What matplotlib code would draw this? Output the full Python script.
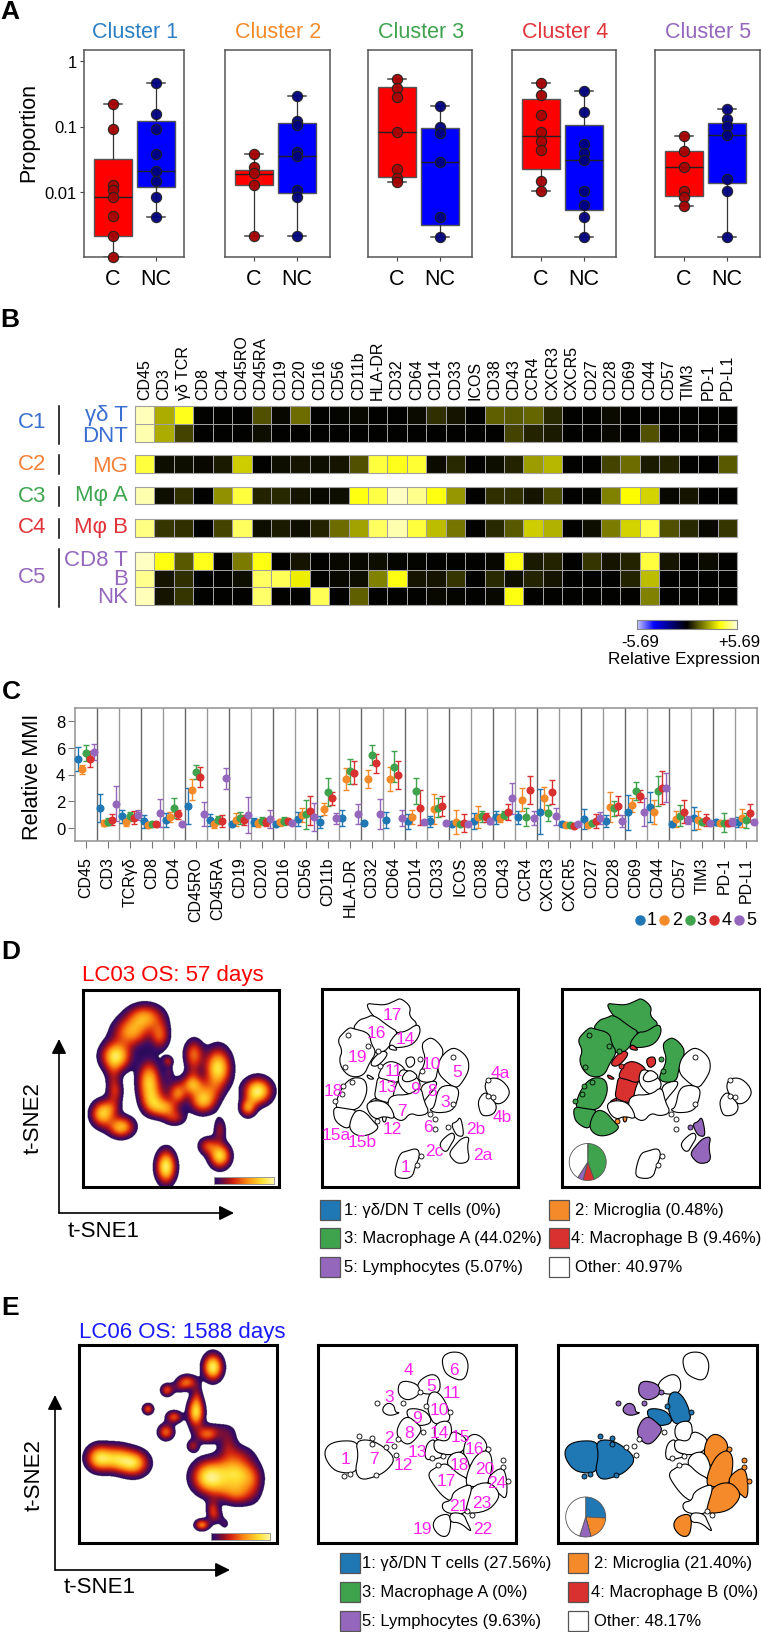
import numpy as np
import matplotlib
matplotlib.use('Agg')
import matplotlib.pyplot as plt
from matplotlib.colors import LinearSegmentedColormap
from matplotlib.patches import Polygon, Rectangle

W, H = 761, 1633
plt.rcParams['font.family'] = ['Liberation Sans', 'DejaVu Sans']

BLUE, ORANGE, GREEN, RED, PURPLE = '#1f77b4', '#f58a2a', '#3fa34d', '#d93030', '#9467bd'
CL_COLORS = {0: 'white', 1: BLUE, 2: ORANGE, 3: GREEN, 4: RED, 5: PURPLE}

# ---- panel A: points and box stats (q1, median, q3)
A_TITLES = ['Cluster 1', 'Cluster 2', 'Cluster 3', 'Cluster 4', 'Cluster 5']
A_TITLE_COLORS = ['#2a7fc4', '#f58a2a', '#3fa34d', '#e0343a', '#9467bd']
C_POINTS = [
    [.22, .0905, .0129, .0106, .0084, .00425, .0021, .00102],
    [.038, .0241, .0193, .0126, .0021],
    [.531, .392, .279, .0824, .0227, .0164, .0144],
    [.467, .306, .152, .0824, .0594, .0433, .0146, .0105],
    [.0716, .0423, .0244, .01035, .0083, .0061],
]
NC_POINTS = [
    [.46, .155, .0927, .038, .0209, .0147, .0084, .0042],
    [.296, .121, .104, .0408, .0354, .0109, .0084, .0021],
    [.203, .098, .0787, .029, .00415, .00208],
    [.348, .164, .054, .0394, .0308, .0105, .00626, .0042, .00208],
    [.185, .129, .102, .0733, .016, .0102, .00203],
]
C_BOX = [(.0021, .0084, .0316), (.0128, .019, .0217), (.0167, .0824, .396), (.0222, .0708, .266), (.00879, .0244, .0423)]
NC_BOX = [(.0118, .0209, .121), (.00966, .0359, .112), (.00313, .029, .0948), (.00531, .0312, .107), (.0136, .0733, .114)]

# ---- panel B
B_MARKERS = ['CD45', 'CD3', 'γδ TCR', 'CD8', 'CD4', 'CD45RO', 'CD45RA', 'CD19', 'CD20', 'CD16', 'CD56',
             'CD11b', 'HLA-DR', 'CD32', 'CD64', 'CD14', 'CD33', 'ICOS', 'CD38', 'CD43', 'CCR4', 'CXCR3',
             'CXCR5', 'CD27', 'CD28', 'CD69', 'CD44', 'CD57', 'TIM3', 'PD-1', 'PD-L1']
gdT = [5.4, 2.5, 4.0, 0, 0, 0, 1.2, .1, 1.6, 0, .05, .1, 0, 0, .15, .7, .3, 0, 1.4, 1.3, 1.5, .6, 0, 0, .15, 0, 0, 0, 0, 0, 0]
DNT = [5.3, 2.5, 1.0, 0, 0, 0, .2, 0, 0, 0, 0, 0, 0, 0, 0, 0, 0, 0, 0, 1.0, .5, .4, 0, 0, .1, 0, 1.2, 0, 0, 0, 0]
MG = [4.3, .2, .2, .1, .4, 3.0, 0, .2, .3, .2, .3, 1.2, 4.3, 4.0, 4.2, .15, .6, 0, .2, .5, 2.3, 2.7, 0, 0, 1.0, 1.6, .4, .5, 0, 0, 1.3]
MphiA = [5.3, .2, .7, 0, 2.1, 4.3, .5, .6, .3, .1, .2, 3.9, 4.4, 5.5, 5.0, 3.9, 2.2, 0, .7, .7, .3, 1.1, 0, .05, 1.9, 3.7, 3.1, .1, .3, 0, 0]
MphiB = [4.9, .8, .7, 0, 1.0, 4.6, .2, .4, .2, .5, 1.6, 2.4, 4.6, 5.3, 4.3, 2.8, 1.7, 0, .6, 1.3, 3.0, 2.6, 0, .2, 1.8, 3.1, 4.4, 1.2, .6, .1, .8]
CD8T = [5.5, 3.9, 1.3, 4.0, 0, 1.8, 3.9, 0, .3, 0, .1, .1, .2, .05, .05, 0, 0, 0, .1, 3.9, .4, .5, 0, .8, .3, .5, 4.3, .3, 0, .15, 0]
Bcell = [5.0, .3, .7, 0, 0, .2, 4.6, 4.5, 3.5, 0, .1, .2, 1.9, 3.9, .3, .3, .8, 0, .6, .2, .5, .3, 0, 0, 0, .5, 2.8, 0, 0, 0, 0]
NK = [5.4, .3, .8, 0, 0, 0, 4.7, 0, 0, 4.5, 0, 1.4, 0, 0, 0, .1, .05, 0, .1, 3.9, 0, 0, 0, 0, 0, 0, 1.9, 0, 0, 0, 0]

# ---- panel C
C_LABELS = ['CD45', 'CD3', 'TCRγδ', 'CD8', 'CD4', 'CD45RO', 'CD45RA', 'CD19', 'CD20', 'CD16', 'CD56', 'CD11b',
            'HLA-DR', 'CD32', 'CD64', 'CD14', 'CD33', 'ICOS', 'CD38', 'CD43', 'CCR4', 'CXCR3', 'CXCR5', 'CD27',
            'CD28', 'CD69', 'CD44', 'CD57', 'TIM3', 'PD-1', 'PD-L1']
mean1 = [5.2, 1.5, .85, .47, .58, 1.6, .55, .3, .4, .3, .65, .45, .72, .33, .55, .47, .47, .28, .47, .78, .78, 1.2, .3, .67, .52, 1.15, 1.55, .3, .7, .4, .42]
sd1 = [.9, 1.05, .5, .5, .55, 1.35, .45, .1, .3, .12, .55, .45, .6, .05, .6, .55, .4, .1, .6, .5, .5, 1.7, .1, .75, .45, 1.3, 1.15, .1, .85, .2, .35]
mean2 = [4.4, .35, .45, .2, .8, 2.85, .3, .6, .35, .4, .95, 1.4, 3.65, 3.65, 3.65, .8, 1.4, .4, .8, .75, 2.1, 2.2, .17, .22, 1.55, 1.7, 1.2, .68, .58, .33, .72]
sd2 = [.35, .25, .3, .15, .4, .8, .3, .5, .3, .25, .55, .45, .85, .7, .9, .55, 1.15, .9, .85, .3, .85, .85, .1, .12, 1.15, .5, .9, .6, .65, .15, .7]
mean3 = [5.65, .45, .85, .3, 1.5, 4.2, .6, .7, .47, .47, 1.0, 2.7, 4.25, 5.45, 4.6, 2.75, 1.5, .28, .85, .95, .8, 1.1, .22, .37, 1.45, 2.75, 2.75, .9, .45, .37, .55]
sd3 = [.6, .25, .35, .15, .75, .55, .3, .45, .3, .3, 1.1, 1.05, .95, .75, 1.2, 1.0, .7, .1, .4, .3, .7, .6, .1, .1, .55, .65, 1.15, .8, .2, .7, .55]
mean4 = [5.15, .6, .75, .25, 1.0, 3.8, .47, .58, .42, .47, 1.27, 2.2, 4.15, 4.85, 3.95, 1.5, 1.6, .35, .78, 1.2, 2.8, 2.7, .15, .5, 1.65, 2.35, 3.0, 1.2, .58, .33, 1.1]
sd4 = [.6, .4, .5, .15, .35, .75, .45, .35, .3, .2, 1.1, .5, .85, .7, 1.05, 1.3, .75, .7, .35, .6, 1.05, .9, .1, .55, .7, .45, 1.25, .85, .45, .2, .7]
mean5 = [5.7, 1.8, .95, 1.1, .28, 1.0, 3.7, .95, .65, .35, .8, .7, 1.0, 1.03, .7, .45, .37, .28, .5, 2.2, .72, .85, .3, .75, .5, 1.18, 3.0, .6, .33, .4, .4]
sd5 = [.6, 1.3, .4, 1.05, .1, .9, .8, 1.35, .65, .12, 1.05, .4, .75, 1.1, .6, .15, .1, .15, .2, 1.15, .55, .65, .1, .45, .45, 1.05, 1.1, .3, .1, .3, .15]

# ---- density blobs: x, y, sx, sy, height (pixels inside the panel)
D_BLOBS = [(62, 27, 11, 8, .6), (48, 42, 11, 9, .6), (77, 45, 6, 9, .45), (33, 66, 9, 9, .85), (30, 85, 5, 10, .2),
           (32, 102, 5, 8, .33), (19, 124, 7, 8, .7), (38, 137, 8, 6.5, .7), (28, 118, 6, 6, .25), (66, 92, 7, 13, .75),
           (70, 112, 7, 8, .45), (82, 118, 8, 6, .55), (92, 128, 7, 5, .3), (85, 71, 3.5, 3.5, .3), (86, 82, 3, 5, .15),
           (92, 100, 10, 9, .2), (95, 104, 5, 6, .35), (111, 64, 6, 9, .5), (110, 85, 5, 8, .2), (135, 78, 8, 12, .85),
           (110, 95, 7, 6, .5), (120, 110, 8, 8, .7), (130, 100, 7, 8, .2), (175, 101, 8.5, 8, .9), (165, 118, 5, 5.5, .55),
           (170, 110, 5, 5, .1), (137, 166, 6.5, 7.5, .8), (125, 156, 6, 5.5, .4), (137, 140, 4, 8, .28), (83, 177, 6, 10, .9)]
E_BLOBS = [(20, 113, 8, 8, .75), (38, 113, 9, 8, .6), (55, 118, 9, 8, .7), (42, 120, 12, 6, .1), (69, 64, 3.5, 3.5, .45),
           (87, 87, 5, 5, .5), (95, 72, 5, 4, .45), (117, 67, 5, 9, .8), (108, 37, 6, 4.5, .5), (88, 45, 4, 4, .42),
           (100, 42, 5, 4, .15), (134, 22, 6, 8, .9), (118, 50, 3.5, 8, .2), (128, 90, 7, 5, .42), (114, 101, 4, 4, .3),
           (149, 98, 6, 9, .25), (135, 85, 12, 5, .16), (129, 132, 10, 10, .8), (150, 125, 11, 9, .5), (146, 143, 11, 8, .35),
           (165, 132, 10, 10, .5), (160, 150, 9, 7, .3), (175, 140, 6, 12, .15), (160, 110, 10, 7, .2), (134, 166, 4, 7, .38),
           (123, 180, 4.5, 3.5, .55), (146, 179, 3, 3.5, .15), (140, 172, 4, 5, .12)]

# ---- cluster outlines: (cluster, outline) with 0 = other
D_REGIONS = [
    (3, [(142, -75), (170, -72), (198, -70), (225, -82), (241, -90), (270, -65), (263, -40), (292, -15), (256, 10), (232, 8), (205, -5), (161, -40)]),
    (3, [(100, 3), (120, -25), (140, -30), (160, -40), (205, -5), (232, 10), (205, 50), (190, 65), (165, 70), (150, 45), (145, 15)]),
    (3, [(232, 10), (256, 10), (292, -15), (300, 10), (280, 45), (240, 55), (205, 50)]),
    (3, [(55, 35), (75, 12), (90, 0), (100, 3), (145, 15), (150, 45), (165, 70), (145, 100), (130, 135), (95, 140), (70, 120), (60, 90), (70, 65)]),
    (3, [(48, 235), (60, 190), (90, 150), (130, 150), (140, 180), (130, 215), (110, 240), (75, 240)]),
    (3, [(45, 235), (75, 240), (110, 245), (95, 270), (85, 300), (50, 280), (42, 255)]),
    (3, [(110, 245), (135, 250), (160, 280), (175, 295), (150, 315), (115, 320), (90, 300), (95, 270)]),
    (4, [(175, 145), (200, 145), (225, 150), (235, 150), (222, 178), (215, 220), (190, 215), (165, 205), (170, 175)]),
    (4, [(185, 120), (195, 105), (215, 98), (240, 108), (255, 125), (240, 150), (225, 160), (200, 150), (175, 145)]),
    (4, [(155, 95), (185, 65), (205, 75), (175, 110), (155, 110)]),
    (4, [(140, 135), (165, 150), (145, 150)]),
    (4, [(205, 60), (215, 45), (235, 65)]),
    (4, [(255, 90), (280, 82), (285, 105), (265, 118)]),
    (4, [(145, 220), (170, 205), (165, 222)]),
    (2, [(165, 228), (185, 222), (203, 228), (203, 246), (188, 246), (170, 240)]),
    (2, [(187, 262), (200, 256), (197, 278), (189, 278)]),
    (3, [(305, 50), (320, 35), (335, 30), (355, 45), (370, 70), (352, 115), (345, 155), (305, 155), (295, 140), (320, 95)]),
    (0, [(360, 95), (380, 70), (405, 58), (440, 85), (445, 120), (430, 150), (410, 175), (385, 160), (355, 130)]),
    (0, [(300, 170), (345, 155), (350, 170), (320, 205), (310, 220)]),
    (0, [(345, 235), (355, 180), (385, 170), (415, 180), (410, 215), (395, 245), (350, 250), (330, 240)]),
    (0, [(240, 125), (262, 125), (295, 150), (300, 175), (270, 200), (235, 165)]),
    (0, [(258, 128), (275, 125), (295, 145), (262, 160), (245, 150)]),
    (0, [(215, 200), (270, 200), (300, 175), (310, 220), (325, 250), (295, 260), (270, 250), (250, 275), (225, 265), (205, 230)]),
    (0, [(140, 225), (170, 215), (205, 225), (225, 270), (190, 260), (170, 270), (150, 255)]),
    (0, [(240, 375), (262, 368), (290, 360), (298, 380), (285, 410), (275, 445), (235, 445), (225, 430)]),
    (5, [(390, 370), (410, 345), (425, 330), (447, 325), (440, 355), (448, 395), (415, 403), (395, 385)]),
    (5, [(395, 285), (410, 280), (420, 265), (427, 290), (430, 320), (415, 320), (405, 310)]),
    (0, [(360, 340), (395, 310), (405, 325), (390, 350), (380, 368), (365, 360)]),
    (0, [(495, 175), (505, 150), (540, 150), (570, 185), (555, 215), (530, 225), (510, 205)]),
    (0, [(475, 215), (495, 190), (510, 205), (530, 230), (520, 255), (490, 260), (480, 245)]),
]
D_SPOTS = [(85, 18, 3), (145, 50, 3), (180, 110, 4), (175, 65, 3), (70, 170, 3), (65, 195, 3), (45, 215, 3), (95, 160, 3),
           (75, 115, 3), (300, 90, 3), (305, 125, 3), (345, 270, 0), (345, 300, 0), (385, 295, 5), (302, 380, 0), (292, 408, 0),
           (170, 275, 2), (400, 85, 0), (400, 225, 0), (330, 255, 0), (505, 152, 0), (520, 205, 0), (505, 200, 0)]
D_LABELS = [('17', 216, -42), ('16', 170, 10), ('14', 255, 28), ('19', 112, 82), ('11', 222, 125), ('10', 335, 103), ('5', 413, 128),
            ('4a', 542, 131), ('13', 203, 173), ('9', 285, 180), ('8', 335, 185), ('18', 40, 183), ('3', 377, 218), ('7', 247, 243),
            ('4b', 548, 263), ('12', 218, 297), ('6', 323, 293), ('2b', 468, 298), ('15a', 50, 315), ('15b', 127, 337), ('2c', 342, 365),
            ('2a', 487, 378), ('1', 257, 412)]
E_REGIONS = [
    (0, [(368, -95), (394, -110), (430, -105), (445, -70), (430, -25), (387, -40), (372, -60)]),
    (0, [(299, -25), (336, -45), (358, -30), (358, 10), (321, 15), (292, 5)]),
    (1, [(323, 45), (330, 15), (350, 10), (370, 30), (385, 65), (388, 95), (345, 105), (330, 80)]),
    (5, [(241, -25), (292, -15), (299, 15), (263, 35), (234, 15)]),
    (5, [(190, 55), (205, 42), (222, 50), (225, 70), (240, 70), (210, 80), (190, 70)]),
    (1, [(262, 62), (290, 60), (320, 70), (335, 100), (300, 110), (285, 100), (265, 85)]),
    (5, [(230, 130), (245, 95), (265, 85), (285, 100), (305, 120), (285, 150), (265, 165), (245, 155)]),
    (1, [(15, 200), (25, 170), (60, 158), (110, 160), (118, 200), (108, 245), (75, 250), (40, 240)]),
    (1, [(110, 160), (150, 155), (195, 180), (222, 212), (195, 245), (165, 260), (125, 270), (108, 245), (118, 200)]),
    (0, [(320, 165), (345, 150), (345, 185), (375, 200), (340, 210), (315, 210)]),
    (0, [(345, 105), (388, 95), (395, 130), (385, 160), (345, 150)]),
    (0, [(345, 185), (345, 150), (385, 160), (395, 125), (440, 150), (430, 185), (395, 195), (375, 195)]),
    (2, [(440, 150), (465, 135), (495, 155), (500, 185), (470, 200), (450, 235), (430, 195)]),
    (0, [(380, 225), (395, 195), (430, 190), (450, 235), (440, 270), (410, 255)]),
    (0, [(325, 255), (355, 235), (380, 225), (410, 255), (440, 270), (440, 290), (400, 310), (395, 335), (370, 320), (345, 290)]),
    (2, [(450, 235), (470, 200), (500, 185), (515, 210), (510, 260), (500, 285), (445, 292), (440, 270)]),
    (2, [(510, 260), (548, 235), (560, 275), (558, 330), (535, 310), (505, 285)]),
    (2, [(455, 295), (505, 280), (535, 310), (530, 335), (500, 365), (440, 372), (438, 350)]),
    (0, [(370, 340), (395, 335), (400, 310), (440, 290), (455, 295), (438, 350), (435, 372), (390, 372), (370, 360)]),
    (2, [(338, 412), (350, 385), (385, 375), (392, 400), (385, 440), (360, 440)]),
    (0, [(392, 372), (430, 375), (440, 400), (455, 430), (420, 400), (392, 400)]),
]
E_SPOTS = [(172, 43, 5), (118, 142, 1), (155, 147, 1), (155, 165, 1), (198, 175, 0), (222, 172, 0), (228, 198, 0), (72, 262, 1), (90, 255, 1),
           (168, 258, 1), (310, 130, 0), (235, 150, 0), (505, 180, 2), (550, 213, 2), (550, 235, 2), (565, 275, 2), (370, 200, 0), (355, 228, 0),
           (390, 70, 1), (318, 50, 1), (250, 42, 5), (300, 10, 5), (335, 208, 0), (440, 365, 0), (455, 378, 0)]
E_LABELS = [('4', 266, -58), ('6', 401, -58), ('5', 333, -10), ('11', 394, 12), ('3', 207, 22), ('10', 358, 62), ('9', 292, 85), ('8', 267, 132),
            ('14', 358, 130), ('15', 422, 142), ('2', 208, 147), ('13', 293, 188), ('16', 462, 180), ('1', 77, 208), ('7', 163, 208), ('12', 250, 228),
            ('18', 417, 227), ('20', 495, 238), ('17', 380, 275), ('24', 530, 282), ('23', 485, 340), ('21', 417, 350), ('19', 307, 418), ('22', 488, 418)]

# ---- pies and legends
PIE_D = [0, .48, 44.02, 9.46, 5.07, 40.97]
PIE_E = [27.56, 21.40, 0, 0, 9.63, 48.17]
LEG_D = ['1: γδ/DN T cells (0%)', '2: Microglia (0.48%)', '3: Macrophage A (44.02%)', '4: Macrophage B (9.46%)',
         '5: Lymphocytes (5.07%)', 'Other: 40.97%']
LEG_E = ['1: γδ/DN T cells (27.56%)', '2: Microglia (21.40%)', '3: Macrophage A (0%)', '4: Macrophage B (0%)',
         '5: Lymphocytes (9.63%)', 'Other: 48.17%']

fig = plt.figure(figsize=(W / 100, H / 100), dpi=100)


def px_axes(x0, y0, x1, y1, **kw):
    return fig.add_axes([x0 / W, 1 - y1 / H, (x1 - x0) / W, (y1 - y0) / H], **kw)


bg = px_axes(0, 0, W, H)
bg.set_xlim(0, W)
bg.set_ylim(H, 0)
bg.axis('off')

for letter, x, y in [('A', 10, 12), ('B', 10, 320), ('C', 11, 692), ('D', 11, 952), ('E', 10, 1308)]:
    bg.text(x, y, letter, fontsize=19, fontweight='bold', ha='center', va='center')

# ---------- A
A_X = [(84, 184), (225, 330), (368, 472), (512, 616), (655, 760)]
for i, (x0, x1) in enumerate(A_X):
    ax = px_axes(x0, 51, x1, 258)
    c_center = x0 + 29
    step = 43
    ax.set_xlim((x0 - c_center) / step, (x1 - c_center) / step)
    ax.set_yscale('log')
    ax.set_ylim(10 ** (-(258 - 193) / 65.5 - 2), 10 ** ((62 - 51) / 65.5))
    for pos, box, pts, face, dot in [(0, C_BOX[i], C_POINTS[i], '#ff0000', '#a50000'),
                                     (1, NC_BOX[i], NC_POINTS[i], '#0000ff', '#00007f')]:
        stats = [dict(med=box[1], q1=box[0], q3=box[2], whislo=min(pts), whishi=max(pts), fliers=[])]
        ax.bxp(stats, positions=[pos], widths=.88, patch_artist=True, showfliers=False, capwidths=.42,
               boxprops=dict(facecolor=face, edgecolor='#555555', linewidth=1),
               medianprops=dict(color='#222222', linewidth=1),
               whiskerprops=dict(color='#333333', linewidth=.9),
               capprops=dict(color='#444444', linewidth=1.1), manage_ticks=False)
        ax.plot([pos] * len(pts), pts, 'o', ms=7.4, mfc=dot, mec='#222222', mew=.8, alpha=.95, zorder=5, clip_on=False)
    ax.set_xticks([0, 1])
    ax.set_xticklabels(['C', 'NC'], fontsize=15.5)
    ax.tick_params(axis='x', length=3, pad=5, color='#444444')
    ax.minorticks_off()
    ax.tick_params(axis='y', which='minor', left=False)
    if i == 0:
        ax.set_yticks([1, .1, .01])
        ax.set_yticklabels(['1', '0.1', '0.01'], fontsize=12)
        ax.tick_params(axis='y', length=3, pad=2, color='#444444')
    else:
        ax.set_yticks([])
    for s in ax.spines.values():
        s.set_color('#555555')
        s.set_linewidth(1.1)
    bg.text(c_center + 21.5, 62, 'q<0.01', fontsize=12, ha='center', va='center')
    bg.plot([c_center - 1, c_center + 44], [72, 72], color='#444444', lw=1)
    bg.text((x0 + x1) / 2 + 1, 33, A_TITLES[i], color=A_TITLE_COLORS[i], fontsize=15.5, ha='center', va='center')
bg.text(29, 133, 'Proportion', fontsize=15.5, rotation=90, ha='center', va='center')

# ---------- B
heat_cmap = LinearSegmentedColormap.from_list('byk', [(0, '#c8c8ff'), (.17, '#0000ff'), (.5, '#000000'), (.83, '#ffff00'), (1, '#ffffd8')])
B_GROUPS = [([gdT, DNT], 407, 443), ([MG], 456, 474), ([MphiA], 488, 505), ([MphiB], 520, 538), ([CD8T, Bcell, NK], 553, 606)]
for j, (rows, y0, y1) in enumerate(B_GROUPS):
    ax = px_axes(135, y0, 737, y1)
    ax.pcolormesh(np.array(rows), cmap=heat_cmap, vmin=-5.69, vmax=5.69, edgecolors='#a0a0a0', linewidth=.7)
    ax.set_ylim(len(rows), 0)
    ax.set_yticks([])
    for s in ax.spines.values():
        s.set_color('#a0a0a0')
    if j == 0:
        ax.xaxis.tick_top()
        ax.set_xticks(np.arange(31) + .5)
        ax.set_xticklabels(B_MARKERS, rotation=90, fontsize=11.5)
        ax.tick_params(axis='x', length=0, pad=5)
    else:
        ax.set_xticks([])

for txt, col, y in [('C1', '#3a6fd0', 422), ('C2', '#f5813a', 465), ('C3', '#3fa650', 496), ('C4', '#e0343a', 528), ('C5', '#9467bd', 578)]:
    bg.text(32, y, txt, color=col, fontsize=16, ha='center', va='center')
for txt, col, y in [('γδ T', '#3a6fd0', 416), ('DNT', '#3a6fd0', 436), ('MG', '#f5813a', 467), ('Mφ A', '#3fa650', 495),
                    ('Mφ B', '#e0343a', 528), ('CD8 T', '#9467bd', 561), ('B', '#9467bd', 580), ('NK', '#9467bd', 598)]:
    bg.text(128, y, txt, color=col, fontsize=16, ha='right', va='center')
for y0, y1 in [(407, 445), (456, 475), (488, 507), (520, 539), (550, 608)]:
    bg.plot([58.5, 58.5], [y0, y1], color='k', lw=1.1)

cb = px_axes(637, 621, 737, 630)
cb.imshow(np.linspace(-5.69, 5.69, 200).reshape(1, -1), cmap=heat_cmap, aspect='auto')
cb.set_xticks([])
cb.set_yticks([])
for s in cb.spines.values():
    s.set_color('#888888')
bg.text(640, 643, '-5.69', fontsize=12, ha='center', va='center')
bg.text(739, 643, '+5.69', fontsize=12, ha='center', va='center')
bg.text(684, 660, 'Relative Expression', fontsize=12.3, ha='center', va='center')

# ---------- C
ax = px_axes(75, 709, 757, 842)
C_SERIES = [(mean1, sd1, BLUE), (mean2, sd2, ORANGE), (mean3, sd3, GREEN), (mean4, sd4, RED), (mean5, sd5, PURPLE)]
C_OFFSETS = [-.35, -.17, 0, .17, .35]
for (m, s, col), off in zip(C_SERIES, C_OFFSETS):
    ax.errorbar(np.arange(31) + off, m, yerr=s, fmt='o', ms=4.8, color=col, elinewidth=1, capsize=2.5, capthick=1,
                clip_on=False, zorder=3)
for k in range(1, 31):
    ax.axvline(k - .5, color='#666666' if k % 2 else '#999999', lw=1, zorder=1)
ax.set_xlim(-.5, 30.5)
ax.set_ylim(-1, 9)
ax.set_yticks([0, 2, 4, 6, 8])
ax.set_xticks(np.arange(31))
ax.set_xticklabels(C_LABELS, rotation=90, fontsize=11.5)
ax.tick_params(axis='y', labelsize=12, length=5, color='#777777', pad=2)
ax.tick_params(axis='x', length=5, color='#777777', pad=6)
for s in ax.spines.values():
    s.set_color('#999999')
    s.set_linewidth(1.2)
bg.text(33, 777, 'Relative MMI', fontsize=15.6, rotation=90, ha='center', va='center')

for num, xm, xt in [('1', 640, 652), ('2', 664, 677), ('3', 690, 701), ('4', 714, 727), ('5', 738.5, 751)]:
    bg.plot([xm], [921], 'o', ms=6.5, color=CL_COLORS[int(num)])
    bg.text(xt, 921, num, fontsize=13, ha='center', va='center')

# ---------- D, E
dens_cmap = LinearSegmentedColormap.from_list('dens', [(0, '#2a0a5a'), (.06, '#3b0c66'), (.2, '#8a0f2a'), (.33, '#d7240f'),
                                                       (.55, '#fb8a12'), (.8, '#ffe030'), (1, '#fff8a8')])
SIGMA_SCALE = 1.06


def density_panel(box, blobs, bar):
    ax = px_axes(*box)
    w, h = box[2] - box[0], box[3] - box[1]
    xx, yy = np.meshgrid(np.linspace(0, w, 500), np.linspace(0, h, 500))
    z = np.zeros_like(xx)
    for bx, by, sx, sy, amp in blobs:
        z += amp * np.exp(-((xx - bx) / (sx * SIGMA_SCALE)) ** 2 / 2 - ((yy - by) / (sy * SIGMA_SCALE)) ** 2 / 2)
    ax.imshow(np.ma.masked_less(np.clip(z, 0, 1), .1), extent=(0, w, h, 0), cmap=dens_cmap, vmin=.1, vmax=1, aspect='auto')
    ax.set_xticks([])
    ax.set_yticks([])
    for s in ax.spines.values():
        s.set_linewidth(2.2)
    c = px_axes(*bar)
    c.imshow(np.linspace(0, 1, 200).reshape(1, -1), cmap=dens_cmap, aspect='auto')
    c.set_xticks([])
    c.set_yticks([])
    for s in c.spines.values():
        s.set_color('#999999')
        s.set_linewidth(.7)


def smooth_outline(pts):
    # corner cutting so the read-off outlines are not angular
    p = np.array(pts, dtype=float)
    mid = p.mean(axis=0)
    p = mid + (p - mid) * 1.07
    for _ in range(2):
        nxt = np.roll(p, -1, axis=0)
        p = np.column_stack([.75 * p + .25 * nxt, .25 * p + .75 * nxt]).reshape(-1, 2)
    return p


def outline_panel(box, lims, regions, spots, filled, labels=None):
    ax = px_axes(*box)
    ax.set_xlim(lims[0], lims[1])
    ax.set_ylim(lims[2], lims[3])
    for cl, pts in regions:
        col = CL_COLORS[cl] if filled else 'white'
        ax.add_patch(Polygon(smooth_outline(pts), closed=True, facecolor=col, edgecolor='k', lw=.8))
    for sx, sy, cl in spots:
        ax.plot([sx], [sy], 'o', ms=3.6, mfc=CL_COLORS[cl] if filled else 'white', mec='k', mew=.6)
    if labels:
        for txt, lx, ly in labels:
            ax.text(lx, ly, txt, color='#ff22ee', fontsize=12.5, ha='center', va='center')
    ax.set_xticks([])
    ax.set_yticks([])
    for s in ax.spines.values():
        s.set_linewidth(2.2)


def pie_inset(cx, cy, r, values):
    p = px_axes(cx - r - 1, cy - r - 1, cx + r + 1, cy + r + 1)
    p.pie(values, colors=[BLUE, ORANGE, GREEN, RED, PURPLE, 'white'], startangle=90, counterclock=False,
          radius=r / (r + 1), center=(0, 0), wedgeprops=dict(edgecolor='#555555', linewidth=.6))
    p.set_xlim(-1, 1)
    p.set_ylim(-1, 1)


def legend_rows(items, rows_y, sw1, tx1, sw2, tx2):
    cols = [CL_COLORS[1], CL_COLORS[2], CL_COLORS[3], CL_COLORS[4], CL_COLORS[5], 'white']
    for n, label in enumerate(items):
        y = rows_y[n // 2]
        sx, tx = (sw1, tx1) if n % 2 == 0 else (sw2, tx2[(n // 2)])
        bg.add_patch(Rectangle((sx, y - 10), 20, 20, facecolor=cols[n], edgecolor='#555555', lw=.9))
        bg.text(tx, y, label, fontsize=12, ha='left', va='center')


def arrows(x, y_base, y_top, x_tip):
    style = dict(arrowstyle='-|>', color='k', lw=1.2, mutation_scale=22, shrinkA=0, shrinkB=0)
    bg.annotate('', xy=(x, y_top), xytext=(x, y_base), arrowprops=style)
    bg.annotate('', xy=(x_tip, y_base), xytext=(x, y_base), arrowprops=style)


bg.text(81.5, 976, 'LC03 OS: 57 days', color='#ff0000', fontsize=16, ha='left', va='center')
density_panel((83, 991, 279, 1188), D_BLOBS, (214, 1178, 274, 1185))
D_LIM = (6, 594, 474, -120)
outline_panel((322, 990, 518, 1188), D_LIM, D_REGIONS, D_SPOTS, False, D_LABELS)
outline_panel((562, 990, 760, 1188), D_LIM, D_REGIONS, D_SPOTS, True)
pie_inset(587.7, 1163, 18.5, PIE_D)
arrows(59, 1214, 1040, 234)
bg.text(33, 1118, 't-SNE2', fontsize=16, rotation=90, ha='center', va='center')
bg.text(104, 1232, 't-SNE1', fontsize=16, ha='center', va='center')
legend_rows(LEG_D, [1211, 1239, 1268], 320, 344, 548.5, [575, 571, 575])

bg.text(79, 1333, 'LC06 OS: 1588 days', color='#1a1aff', fontsize=16, ha='left', va='center')
density_panel((79, 1346, 277, 1544), E_BLOBS, (211, 1534, 270, 1541))
E_LIM = (-6, 588, 462, -132)
outline_panel((318, 1346, 516, 1544), E_LIM, E_REGIONS, E_SPOTS, False, E_LABELS)
outline_panel((558, 1346, 757, 1544), E_LIM, E_REGIONS, E_SPOTS, True)
pie_inset(585.7, 1518, 20, PIE_E)
arrows(55, 1571, 1396, 230)
bg.text(34, 1475, 't-SNE2', fontsize=16, rotation=90, ha='center', va='center')
bg.text(100, 1588, 't-SNE1', fontsize=16, ha='center', va='center')
legend_rows(LEG_E, [1564, 1593, 1622], 340, 362, 568, [594, 591, 594])

fig.savefig('out.png', dpi=100)
plt.close(fig)
